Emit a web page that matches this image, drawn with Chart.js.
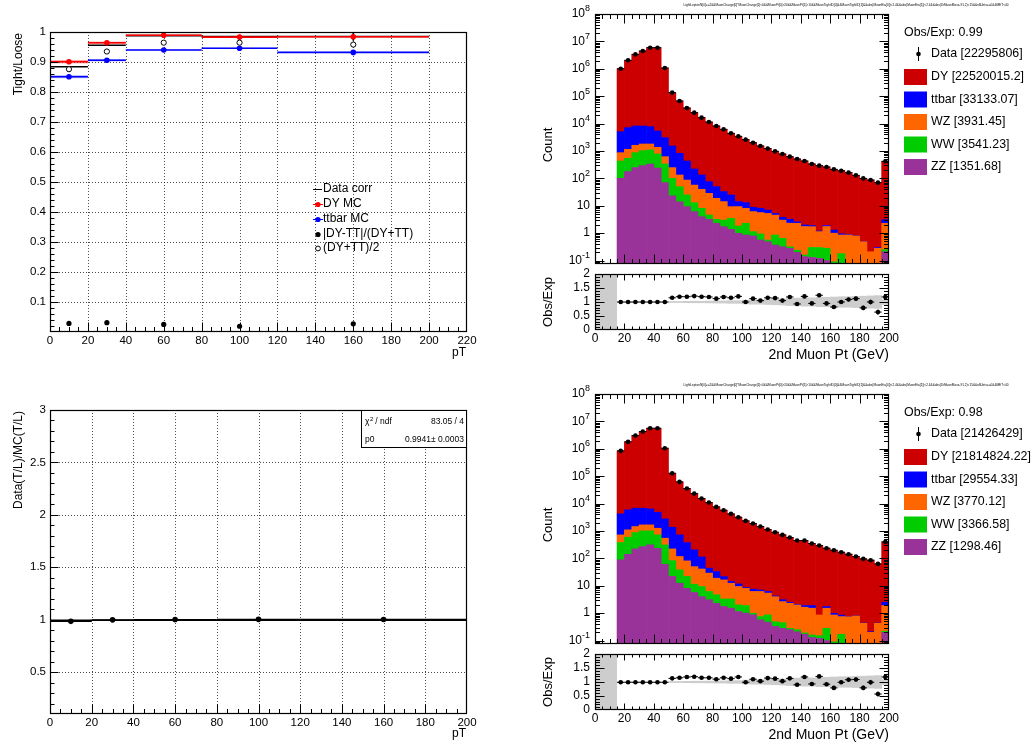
<!DOCTYPE html>
<html>
<head>
<meta charset="utf-8">
<script src="https://cdn.jsdelivr.net/npm/chart.js@4.4.1/dist/chart.umd.min.js"></script>
<style>
  html, body { margin: 0; padding: 0; background: #fff; }
  #page { position: relative; width: 1036px; height: 749px; }
  #page canvas { position: absolute; left: 0; top: 0; }
</style>
</head>
<body>
<div id="page">
  <canvas id="rateCanvas" width="1036" height="749"></canvas>
  <canvas id="sfCanvas" width="1036" height="749"></canvas>
  <canvas id="stackTop" width="1036" height="749"></canvas>
  <canvas id="ratioTop" width="1036" height="749"></canvas>
  <canvas id="stackBot" width="1036" height="749"></canvas>
  <canvas id="ratioBot" width="1036" height="749"></canvas>
</div>
<script>
const FONT = '"Liberation Sans", Arial, Helvetica, sans-serif';

// ---- tight/loose ratio per pT bin
const rateBinLo = [0, 20, 40, 80, 120];
const rateBinHi = [20, 40, 80, 120, 200];
const rateDataCorr = [0.884, 0.956, 0.988, 0.985, 0.985];
const rateDataCorrErr = [0.002, 0.002, 0.002, 0.006, 0.014];
const rateDY = [0.901, 0.964, 0.989, 0.983, 0.984];
const rateDYErr = [0.0055, 0.004, 0.002, 0.002, 0.002];
const rateTT = [0.851, 0.906, 0.940, 0.946, 0.932];
const rateTTErr = [0.005, 0.004, 0.002, 0.002, 0.002];
const rateLegendLabels = ['Data corr', 'DY MC', 'ttbar MC', '|DY-TT|/(DY+TT)', '(DY+TT)/2'];

// ---- data(T/L) / MC(T/L) with a constant fit
const sfValues = [0.984, 0.998, 1.001, 1.003, 1.002];
const sfErr = [0.003, 0.002, 0.002, 0.002, 0.003];
const fitP0 = 0.9941;
const fitP0Err = 0.0003;
const fitChi2Ndf = '83.05 / 4';

// ---- 2nd muon pT histograms, 5 GeV bins from 15 to 200
const muPtBins = [17.5, 22.5, 27.5, 32.5, 37.5, 42.5, 47.5, 52.5, 57.5, 62.5, 67.5, 72.5, 77.5,
  82.5, 87.5, 92.5, 97.5, 102.5, 107.5, 112.5, 117.5, 122.5, 127.5, 132.5, 137.5, 142.5, 147.5,
  152.5, 157.5, 162.5, 167.5, 172.5, 177.5, 182.5, 187.5, 192.5, 197.5];
const sampleNames = ['DY', 'ttbar', 'WZ', 'WW', 'ZZ'];
const sampleColors = ['#cc0000', '#0000ff', '#ff6600', '#00cc00', '#993399'];

const topData = [1.01e6, 2.04e6, 3.37e6, 4.47e6, 5.90e6, 5.90e6, 1.07e6, 1.35e5, 66800, 37100,
  25100, 16500, 11400, 8170, 6180, 4420, 3430, 2590, 2010, 1520,
  1220, 972, 777, 621, 510, 431, 336, 292, 261, 214,
  191, 162, 129, 100, 87, 70, 420];
const topDY = [1.005e6, 2.033e6, 3.362e6, 4.462e6, 5.892e6, 5.895e6, 1.067e6, 1.335e5, 65980, 36670,
  24880, 16370, 11320, 8120, 6147, 4395, 3416, 2577, 2001, 1512,
  1213, 967, 773, 618, 507, 429, 334, 291, 259, 213,
  190, 161, 128, 99, 87, 70, 417];
const topTT = [4211, 5960, 6560, 6370, 5930, 4010, 2449, 1273, 689, 344,
  163, 93, 47.5, 31.3, 18.8, 15.5, 4.9, 4.9, 2.7, 2.5,
  1.7, 0.7, 0.8, 0.9, 0.3, 0.25, 0.17, 0.06, 0.15, 0.3,
  0.09, 0.04, 0.01, 0.01, 0, 0.02, 0.8];
const topWZ = [438, 610, 741, 770, 710, 582, 285, 147, 83, 62,
  44, 31.9, 23.9, 15.5, 11.2, 5.8, 7.5, 5.8, 5.0, 4.7,
  4.7, 3.7, 2.35, 2.0, 2.06, 1.59, 1.43, 0.84, 1.47, 0.91,
  0.68, 0.79, 0.72, 0.43, 0.15, 0.22, 2.05];
const topWW = [331, 364, 622, 738, 754, 538, 266, 77, 36, 15.7,
  6.9, 4.1, 1.4, 0.9, 1.27, 2.12, 0.84, 1.44, 0.35, 0.38,
  0.07, 0.49, 0.33, 0.04, 0.04, 0.02, 0.17, 0.18, 0.18, 0.01,
  0.11, 0.02, 0.02, 0.01, 0.01, 0.01, 0.04];
const topZZ = [100, 176, 247, 292, 336, 240, 70, 23, 14, 9.3,
  6.1, 4.0, 3.2, 2.3, 1.73, 1.38, 0.99, 0.86, 0.79, 0.56,
  0.49, 0.37, 0.32, 0.28, 0.2, 0.14, 0.13, 0.12, 0.1, 0.08,
  0.07, 0.05, 0.05, 0.05, 0.05, 0.05, 0.21];
const topRatio = [1.0, 1.0, 1.0, 1.0, 1.0, 1.0, 1.0, 1.15, 1.19, 1.19,
  1.21, 1.19, 1.18, 1.12, 1.18, 1.15, 1.2, 1.0, 1.12, 1.05,
  1.15, 1.14, 1.05, 1.18, 0.93, 1.2, 0.95, 1.24, 0.95, 0.82,
  1.0, 1.09, 1.12, 0.79, 1.0, 0.64, 1.18];
const topYields = [22520015.2, 33133.07, 3931.45, 3541.23, 1351.68];
const topDataYield = 22295806;
const topObsExp = 0.99;

const botData = [8.4e5, 1.79e6, 3.04e6, 4.26e6, 5.63e6, 5.63e6, 1.05e6, 1.28e5, 62000, 35400,
  23200, 15300, 10900, 7570, 5730, 4210, 3180, 2340, 1870, 1450,
  1130, 902, 721, 576, 448, 448, 348, 294, 235, 199,
  168, 142, 117, 96, 86, 63, 400];
const botDY = [835800, 1784000, 3033000, 4253000, 5624000, 5625000, 1047000, 126600, 61300, 35000,
  23000, 15190, 10860, 7540, 5710, 4196, 3168, 2332, 1862, 1443,
  1124, 898, 718, 573, 446, 446, 346, 293, 233, 198,
  167, 141, 116, 95.6, 85.8, 62.6, 397];
const botTT = [3489, 4790, 5330, 5110, 4730, 3580, 2215, 1148, 604, 297,
  154, 72, 15, 14.1, 5.3, 1.9, 2.3, 0.6, 1.3, 0.8,
  0.8, 0.3, 0.45, 0.2, 0.1, 0.25, 0.38, 0, 0.23, 0.13,
  0.1, 0.01, 0.01, 0.01, 0.01, 0.01, 0.6];
const botWZ = [343, 508, 573, 660, 660, 539, 234, 139, 79, 59,
  38.6, 31.6, 22.8, 14.2, 13.1, 9.1, 7.4, 6.2, 5.2, 5.45,
  4.53, 3.51, 2.2, 2.02, 1.75, 1.46, 1.36, 0.71, 1.24, 0.77,
  0.58, 0.68, 0.73, 0.37, 0.14, 0.37, 1.68];
const botWW = [290, 450, 655, 740, 699, 486, 250, 61, 25.6, 13.9,
  5.7, 5.4, 3.1, 2.4, 1.55, 1.78, 0.85, 0.9, 0.13, 0.18,
  0.4, 0.16, 0.17, 0.03, 0.04, 0.02, 0.03, 0.03, 0.18, 0.01,
  0.1, 0.01, 0.01, 0.01, 0.01, 0.01, 0.02];
const botZZ = [88, 142, 222, 270, 311, 235, 61, 22, 12.4, 8.1,
  5.7, 4.0, 3.1, 2.3, 1.75, 1.52, 1.15, 1.0, 0.87, 0.57,
  0.47, 0.33, 0.28, 0.25, 0.21, 0.17, 0.13, 0.12, 0.1, 0.08,
  0.07, 0.05, 0.05, 0.05, 0.05, 0.05, 0.2];
const botRatio = [0.99, 0.99, 0.99, 0.99, 0.99, 0.99, 0.99, 1.13, 1.15, 1.18,
  1.19, 1.15, 1.15, 1.1, 1.15, 1.12, 1.18, 0.99, 1.1, 1.03,
  1.14, 1.12, 1.03, 1.13, 0.9, 1.18, 0.93, 1.2, 0.92, 0.79,
  0.99, 1.08, 1.09, 0.79, 0.99, 0.57, 1.18];
const botYields = [21814824.22, 29554.33, 3770.12, 3366.58, 1298.46];
const botDataYield = 21426429;
const botObsExp = 0.98;

// statistical error on obs/exp and the MC uncertainty band
const ratioErr = [0, 0, 0, 0, 0, 0, 0, 0.005, 0.006, 0.008,
  0.01, 0.012, 0.014, 0.016, 0.018, 0.02, 0.022, 0.025, 0.027, 0.03,
  0.032, 0.035, 0.038, 0.04, 0.045, 0.048, 0.05, 0.055, 0.06, 0.06,
  0.065, 0.07, 0.075, 0.08, 0.085, 0.09, 0.05];
const mcBand = [0.01, 0.01, 0.01, 0.01, 0.01, 0.01, 0.01, 0.03, 0.03, 0.035,
  0.04, 0.04, 0.045, 0.05, 0.05, 0.06, 0.06, 0.08, 0.09, 0.09,
  0.1, 0.11, 0.12, 0.14, 0.15, 0.16, 0.16, 0.18, 0.18, 0.19,
  0.2, 0.2, 0.21, 0.22, 0.23, 0.24, 0.1];

// ---- tick labels
const rateXTicks = [0, 20, 40, 60, 80, 100, 120, 140, 160, 180, 200, 220];
const rateYTicks = [0.1, 0.2, 0.3, 0.4, 0.5, 0.6, 0.7, 0.8, 0.9, 1];
const rateYLabels = ['0.1', '0.2', '0.3', '0.4', '0.5', '0.6', '0.7', '0.8', '0.9', '1'];
const sfXTicks = [0, 20, 40, 60, 80, 100, 120, 140, 160, 180, 200];
const sfYTicks = [0.5, 1, 1.5, 2, 2.5, 3];
const sfYLabels = ['0.5', '1', '1.5', '2', '2.5', '3'];
const countTicks = [1e8, 1e7, 1e6, 1e5, 1e4, 1e3, 100, 10, 1, 0.1];
const countLabels = ['10^8', '10^7', '10^6', '10^5', '10^4', '10^3', '10^2', '10', '1', '10^-1'];
const ratioYTicks = [0, 0.5, 1, 1.5, 2];
const ratioYLabels = ['0', '0.5', '1', '1.5', '2'];

const cutTitle = 'LightLeptonN[0]==2&&MuonCharge[0]*MuonCharge[1]<0&&MuonPt[0]>20&&MuonPt[1]>10&&MuonTightID[0]&&MuonTightID[1]&&abs(MuonEta[0])<2.4&&abs(MuonEta[1])<2.4&&abs(DiMuonMass-91.2)<15&&nBJets==0&&MET<40';

function range(a, b, step) {
  const out = [];
  for (let v = a; v <= b + 1e-9; v += step) out.push(+v.toFixed(6));
  return out;
}
function logMinor(lo, hi) {
  const out = [];
  for (let e = Math.floor(Math.log10(lo)); e < Math.log10(hi); e++) {
    for (let m = 2; m <= 9; m++) {
      const v = m * Math.pow(10, e);
      if (v >= lo && v <= hi) out.push(v);
    }
  }
  return out;
}
function labels(arr) { return arr.map(String); }

// text with an optional "^exp" superscript
function drawLabel(ctx, text, x, y, align, size) {
  const [base, exp] = text.split('^');
  ctx.font = `${size}px ${FONT}`;
  if (exp === undefined) { ctx.textAlign = align; ctx.fillText(base, x, y); return; }
  const small = Math.round(size * 0.72);
  const wb = ctx.measureText(base).width;
  ctx.font = `${small}px ${FONT}`;
  const we = ctx.measureText(exp).width;
  const left = align === 'right' ? x - wb - we : align === 'center' ? x - (wb + we) / 2 : x;
  ctx.textAlign = 'left';
  ctx.font = `${size}px ${FONT}`;
  ctx.fillText(base, left, y);
  ctx.font = `${small}px ${FONT}`;
  ctx.fillText(exp, left + wb, y - size * 0.42);
}

// ROOT style frame: inward ticks, dotted grid, labels and titles
function axesPlugin(cfg) {
  return {
    id: 'rootAxes',
    beforeDatasetsDraw(chart) {
      if (!cfg.grid) return;
      const { ctx, chartArea: a } = chart;
      const xs = chart.scales.x, ys = chart.scales.y;
      ctx.save();
      ctx.strokeStyle = 'rgba(0,0,0,0.7)';
      ctx.lineWidth = 1;
      ctx.setLineDash([1, 2]);
      ctx.beginPath();
      cfg.x.major.forEach(v => {
        const px = Math.round(xs.getPixelForValue(v)) + 0.5;
        if (px <= a.left + 1 || px >= a.right - 1) return;
        ctx.moveTo(px, a.top); ctx.lineTo(px, a.bottom);
      });
      cfg.y.major.forEach(v => {
        const py = Math.round(ys.getPixelForValue(v)) + 0.5;
        if (py <= a.top + 1 || py >= a.bottom - 1) return;
        ctx.moveTo(a.left, py); ctx.lineTo(a.right, py);
      });
      ctx.stroke();
      ctx.restore();
    },
    afterDatasetsDraw(chart) {
      const { ctx, chartArea: a } = chart;
      const xs = chart.scales.x, ys = chart.scales.y;
      const L = Math.round(a.left) + 0.5, R = Math.round(a.right) - 0.5;
      const T = Math.round(a.top) + 0.5, B = Math.round(a.bottom) - 0.5;
      ctx.save();
      ctx.strokeStyle = '#000';
      ctx.lineWidth = 1;
      ctx.beginPath();
      const xTicks = (list, len) => list.forEach(v => {
        const px = Math.round(xs.getPixelForValue(v)) + 0.5;
        if (px < L - 0.1 || px > R + 0.1) return;
        ctx.moveTo(px, B); ctx.lineTo(px, B - len);
        if (cfg.mirror) { ctx.moveTo(px, T); ctx.lineTo(px, T + len); }
      });
      const yTicks = (list, len) => list.forEach(v => {
        const py = Math.round(ys.getPixelForValue(v)) + 0.5;
        if (py < T - 0.1 || py > B + 0.1) return;
        ctx.moveTo(L, py); ctx.lineTo(L + len, py);
        if (cfg.mirror) { ctx.moveTo(R, py); ctx.lineTo(R - len, py); }
      });
      xTicks(cfg.x.major, cfg.x.len);
      xTicks(cfg.x.minor, cfg.x.len / 2);
      yTicks(cfg.y.major, cfg.y.len);
      yTicks(cfg.y.minor, cfg.y.len / 2);
      ctx.stroke();
      ctx.lineWidth = 1.2;
      ctx.strokeRect(L, T, R - L, B - T);

      ctx.fillStyle = '#000';
      ctx.textBaseline = 'middle';
      if (cfg.x.labels) {
        cfg.x.major.forEach((v, i) =>
          drawLabel(ctx, cfg.x.labels[i], xs.getPixelForValue(v), a.bottom + cfg.x.gap, 'center', cfg.x.size));
      }
      if (cfg.y.labels) {
        cfg.y.major.forEach((v, i) =>
          drawLabel(ctx, cfg.y.labels[i], a.left - cfg.y.gap, ys.getPixelForValue(v), 'right', cfg.y.size));
      }
      (cfg.titles || []).forEach(t => {
        ctx.save();
        ctx.translate(t.x, t.y);
        if (t.rot) ctx.rotate(-Math.PI / 2);
        ctx.font = `${t.size}px ${FONT}`;
        ctx.textAlign = t.align;
        ctx.textBaseline = 'middle';
        ctx.fillText(t.text, 0, 0);
        ctx.restore();
      });
      ctx.restore();
    }
  };
}

// horizontal bin-width bars, vertical error bars and shaded error boxes
const errorBars = {
  id: 'errorBars',
  beforeDatasetDraw(chart, args) {
    const ds = chart.data.datasets[args.index];
    if (!ds.binHalf) return;
    const xs = chart.scales[args.meta.xAxisID], ys = chart.scales[args.meta.yAxisID];
    const { ctx, chartArea: a } = chart;
    ctx.save();
    ctx.beginPath();
    ctx.rect(a.left, a.top, a.right - a.left, a.bottom - a.top);
    ctx.clip();
    ds.data.forEach((p, i) => {
      const x0 = xs.getPixelForValue(p.x - ds.binHalf[i]);
      const x1 = xs.getPixelForValue(p.x + ds.binHalf[i]);
      if (ds.band) {
        const y0 = ys.getPixelForValue(p.y + ds.band[i]);
        const y1 = ys.getPixelForValue(p.y - ds.band[i]);
        ctx.fillStyle = ds.bandColor;
        ctx.fillRect(Math.round(x0), y0, Math.round(x1) - Math.round(x0), Math.max(y1 - y0, 1));
      }
      ctx.strokeStyle = ds.errColor || '#000';
      ctx.lineWidth = ds.errWidth || 1;
      ctx.beginPath();
      if (ds.drawBinLine) {
        const py = ys.getPixelForValue(p.y);
        ctx.moveTo(x0, py); ctx.lineTo(x1, py);
      }
      if (ds.yErr && ds.yErr[i] > 0) {
        const px = xs.getPixelForValue(p.x);
        ctx.moveTo(px, ys.getPixelForValue(p.y - ds.yErr[i]));
        ctx.lineTo(px, ys.getPixelForValue(p.y + ds.yErr[i]));
      }
      ctx.stroke();
    });
    ctx.restore();
  }
};

function overlay(id, draw) {
  return { id, afterDraw(chart) { const ctx = chart.ctx; ctx.save(); draw(ctx, chart); ctx.restore(); } };
}

function baseOptions(area, xScale, yScale) {
  return {
    responsive: false,
    animation: false,
    devicePixelRatio: 1,
    events: [],
    layout: { padding: { left: area[0], top: area[1], right: 1036 - area[2], bottom: 749 - area[3] } },
    plugins: { legend: { display: false }, tooltip: { enabled: false } },
    scales: {
      x: Object.assign({ display: false, offset: false, grid: { offset: false } }, xScale),
      y: Object.assign({ display: false }, yScale)
    }
  };
}

const binCenters = rateBinLo.map((lo, i) => (lo + rateBinHi[i]) / 2);
const binHalves = rateBinLo.map((lo, i) => (rateBinHi[i] - lo) / 2);
const pts = vals => binCenters.map((x, i) => ({ x, y: vals[i] }));

// ---------- tight / loose
new Chart(document.getElementById('rateCanvas'), {
  type: 'scatter',
  data: {
    datasets: [
      { label: '|DY-TT|/(DY+TT)', data: pts(rateDY.map((d, i) => Math.abs(d - rateTT[i]) / (d + rateTT[i]))),
        pointRadius: 2.6, pointBackgroundColor: '#000', pointBorderWidth: 0 },
      { label: '(DY+TT)/2', data: pts(rateDY.map((d, i) => (d + rateTT[i]) / 2)),
        pointRadius: 2.6, pointBackgroundColor: '#fff', pointBorderColor: '#000', pointBorderWidth: 1 },
      { label: 'DY MC', data: pts(rateDY), pointRadius: 2.8, pointBackgroundColor: '#ff0000', pointBorderWidth: 0,
        binHalf: binHalves, drawBinLine: true, errColor: '#ff0000', errWidth: 1.6,
        band: rateDYErr, bandColor: 'rgba(255,0,0,0.35)' },
      { label: 'ttbar MC', data: pts(rateTT), pointRadius: 2.8, pointBackgroundColor: '#0000ff', pointBorderWidth: 0,
        binHalf: binHalves, drawBinLine: true, errColor: '#0000ff', errWidth: 1.6,
        band: rateTTErr, bandColor: 'rgba(0,0,255,0.3)' },
      { label: 'Data corr', data: pts(rateDataCorr), pointRadius: 0,
        binHalf: binHalves, drawBinLine: true, yErr: rateDataCorrErr, errColor: '#000', errWidth: 1.6 }
    ]
  },
  options: baseOptions([50, 32, 467, 332], { type: 'linear', min: 0, max: 220 }, { type: 'linear', min: 0, max: 1 }),
  plugins: [errorBars, axesPlugin({
    grid: true, mirror: false,
    x: { major: rateXTicks, minor: range(0, 220, 5), labels: labels(rateXTicks), len: 9, gap: 9, size: 11.5 },
    y: { major: rateYTicks, minor: range(0, 1, 0.02), labels: rateYLabels, len: 8, gap: 4, size: 11.5 },
    titles: [
      { text: 'Tight/Loose', x: 19, y: 33, rot: true, align: 'right', size: 12 },
      { text: 'pT', x: 466, y: 353, align: 'right', size: 12 }
    ]
  }), overlay('rateLegend', ctx => {
    const rows = [189, 204, 219, 234, 248];
    ctx.font = `12px ${FONT}`;
    ctx.textBaseline = 'middle';
    ctx.textAlign = 'left';
    ctx.fillStyle = '#000';
    rateLegendLabels.forEach((t, i) => ctx.fillText(t, 323, rows[i]));
    ctx.lineWidth = 1;
    ctx.strokeStyle = '#000';
    ctx.beginPath(); ctx.moveTo(313, rows[0] + 0.5); ctx.lineTo(322, rows[0] + 0.5); ctx.stroke();
    [['#ff0000', rows[1]], ['#0000ff', rows[2]]].forEach(([c, y]) => {
      ctx.strokeStyle = c; ctx.fillStyle = c;
      ctx.beginPath(); ctx.moveTo(313, y + 0.5); ctx.lineTo(323, y + 0.5); ctx.stroke();
      ctx.beginPath(); ctx.arc(318, y + 0.5, 2.6, 0, Math.PI * 2); ctx.fill();
    });
    ctx.fillStyle = '#000';
    ctx.beginPath(); ctx.arc(318, rows[3] + 0.5, 2.6, 0, Math.PI * 2); ctx.fill();
    ctx.strokeStyle = '#000';
    ctx.beginPath(); ctx.arc(318, rows[4] + 0.5, 2.4, 0, Math.PI * 2); ctx.stroke();
  })]
});

// ---------- data / MC scale factor
new Chart(document.getElementById('sfCanvas'), {
  type: 'scatter',
  data: {
    datasets: [
      { label: 'Data(T/L)/MC(T/L)', data: pts(sfValues), pointRadius: 2.8, pointBackgroundColor: '#000', pointBorderWidth: 0,
        binHalf: binHalves, drawBinLine: true, yErr: sfErr, errColor: '#000', errWidth: 1.2 },
      { label: 'pol0', type: 'line', showLine: true, data: [{ x: 0, y: fitP0 }, { x: 200, y: fitP0 }],
        borderColor: '#000', borderWidth: 1.5, pointRadius: 0 },
      { label: 'low bin MC', type: 'line', showLine: true, data: [{ x: 0, y: 0.986 }, { x: 20, y: 0.986 }],
        borderColor: 'rgba(70,70,200,0.85)', borderWidth: 2, pointRadius: 0 }
    ]
  },
  options: baseOptions([50, 410, 467, 714], { type: 'linear', min: 0, max: 200 }, { type: 'linear', min: 0.1, max: 3 }),
  plugins: [errorBars, axesPlugin({
    grid: true, mirror: false,
    x: { major: sfXTicks, minor: range(0, 200, 5), labels: labels(sfXTicks), len: 9, gap: 9, size: 11.5 },
    y: { major: sfYTicks, minor: range(0.1, 3, 0.1), labels: sfYLabels, len: 8, gap: 4, size: 11.5 },
    titles: [
      { text: 'Data(T/L)/MC(T/L)', x: 19, y: 411, rot: true, align: 'right', size: 12 },
      { text: 'pT', x: 466, y: 734, align: 'right', size: 12 }
    ]
  }), overlay('fitBox', ctx => {
    ctx.fillStyle = '#fff';
    ctx.fillRect(361, 410, 106, 38);
    ctx.strokeStyle = '#000';
    ctx.lineWidth = 1;
    ctx.strokeRect(361.5, 410.5, 105, 37);
    ctx.fillStyle = '#000';
    ctx.textBaseline = 'middle';
    ctx.font = `8.5px ${FONT}`;
    ctx.textAlign = 'left';
    ctx.fillText('\u03c7', 365, 422);
    ctx.font = `6px ${FONT}`;
    ctx.fillText('2', 370, 419);
    ctx.font = `8.5px ${FONT}`;
    ctx.fillText(' / ndf', 373, 422);
    ctx.fillText('p0', 365, 440);
    ctx.textAlign = 'right';
    ctx.fillText(fitChi2Ndf, 464, 422);
    ctx.fillText(`${fitP0.toFixed(4)}\u00b1 ${fitP0Err.toFixed(4)}`, 464, 440);
  })]
});

// ---------- stacked muon pT
function stackChart(id, area, s) {
  const mc = [[4, s.zz], [3, s.ww], [2, s.wz], [1, s.tt], [0, s.dy]];
  new Chart(document.getElementById(id), {
    type: 'bar',
    data: {
      datasets: [
        { type: 'scatter', label: 'Data', stack: 'obs', data: muPtBins.map((x, i) => ({ x, y: s.data[i] })),
          pointRadius: 2.3, pointBackgroundColor: '#000', pointBorderWidth: 0,
          binHalf: muPtBins.map(() => 2.5), drawBinLine: true, errColor: '#000', errWidth: 1 }
      ].concat(mc.map(([k, vals]) => ({
        type: 'bar', label: sampleNames[k], stack: 'mc',
        backgroundColor: sampleColors[k], borderWidth: 0,
        barPercentage: 1, categoryPercentage: 1,
        data: muPtBins.map((x, i) => ({ x, y: vals[i] }))
      })))
    },
    options: baseOptions(area, { type: 'linear', min: 0, max: 200 },
      { type: 'logarithmic', min: 0.075, max: 1e8, stacked: true }),
    plugins: [errorBars, axesPlugin({
      grid: false, mirror: true,
      x: { major: range(0, 200, 20), minor: range(0, 200, 5), len: 9 },
      y: { major: countTicks, minor: logMinor(0.075, 1e8), labels: countLabels, len: 9, gap: 5, size: 12 },
      titles: [{ text: 'Count', x: 548, y: (area[1] + area[3]) / 2 + 6, rot: true, align: 'center', size: 13 }]
    }), overlay(id + 'Legend', ctx => {
      const top = area[1];
      ctx.fillStyle = '#000';
      ctx.textBaseline = 'middle';
      ctx.textAlign = 'center';
      ctx.font = `4px ${FONT}`;
      ctx.fillText(cutTitle, 846, top - 9, 325);
      ctx.textAlign = 'left';
      ctx.font = `12.4px ${FONT}`;
      ctx.fillText(`Obs/Exp: ${s.obsExp.toFixed(2)}`, 904, top + 18.5);
      const dataY = top + 40;
      ctx.fillText(`Data [${s.dataYield}]`, 931, dataY);
      ctx.strokeStyle = '#000';
      ctx.lineWidth = 1;
      ctx.beginPath(); ctx.moveTo(918.5, dataY - 7); ctx.lineTo(918.5, dataY + 7); ctx.stroke();
      ctx.beginPath(); ctx.arc(918.5, dataY, 2.3, 0, Math.PI * 2); ctx.fill();
      sampleNames.forEach((name, k) => {
        const y = top + 63 + k * 22.5;
        ctx.fillStyle = sampleColors[k];
        ctx.fillRect(904, y - 8, 23, 16);
        ctx.fillStyle = '#000';
        ctx.fillText(`${name} [${s.yields[k]}]`, 931, y);
      });
    })]
  });
}

function ratioChart(id, area, ratio) {
  new Chart(document.getElementById(id), {
    type: 'scatter',
    data: {
      datasets: [
        { label: 'Obs/Exp', data: muPtBins.map((x, i) => ({ x, y: ratio[i] })),
          pointRadius: 2.3, pointBackgroundColor: '#000', pointBorderWidth: 0,
          binHalf: muPtBins.map(() => 2.5), drawBinLine: true, yErr: ratioErr, errColor: '#000', errWidth: 1 },
        { label: 'MC uncertainty', data: muPtBins.map(x => ({ x, y: 1 })), pointRadius: 0,
          binHalf: muPtBins.map(() => 2.5), band: mcBand, bandColor: '#cdcdcd' },
        { label: 'below threshold', data: [{ x: 7.5, y: 1 }], pointRadius: 0,
          binHalf: [7.5], band: [1], bandColor: '#cdcdcd' }
      ]
    },
    options: baseOptions(area, { type: 'linear', min: 0, max: 200 }, { type: 'linear', min: 0, max: 2 }),
    plugins: [errorBars, axesPlugin({
      grid: false, mirror: true,
      x: { major: range(0, 200, 20), minor: range(0, 200, 5), labels: labels(range(0, 200, 20)), len: 6, gap: 9, size: 12 },
      y: { major: ratioYTicks, minor: range(0, 2, 0.1), labels: ratioYLabels, len: 9, gap: 5, size: 12 },
      titles: [
        { text: 'Obs/Exp', x: 548, y: (area[1] + area[3]) / 2, rot: true, align: 'center', size: 13 },
        { text: '2nd Muon Pt (GeV)', x: 889, y: area[3] + 25, align: 'right', size: 14 }
      ]
    })]
  });
}

stackChart('stackTop', [595, 14, 889, 264], {
  data: topData, dy: topDY, tt: topTT, wz: topWZ, ww: topWW, zz: topZZ,
  yields: topYields, dataYield: topDataYield, obsExp: topObsExp
});
ratioChart('ratioTop', [595, 274, 889, 330], topRatio);
stackChart('stackBot', [595, 394, 889, 644], {
  data: botData, dy: botDY, tt: botTT, wz: botWZ, ww: botWW, zz: botZZ,
  yields: botYields, dataYield: botDataYield, obsExp: botObsExp
});
ratioChart('ratioBot', [595, 654, 889, 710], botRatio);
</script>
</body>
</html>
